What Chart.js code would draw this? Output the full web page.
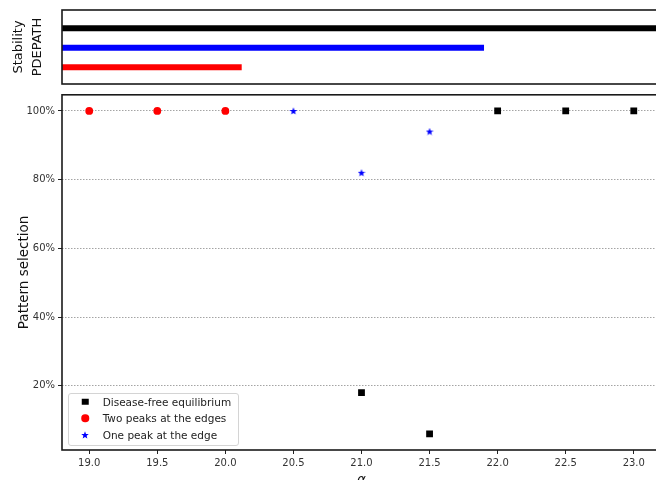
<!DOCTYPE html>
<html><head><meta charset="utf-8">
<script src="https://cdn.jsdelivr.net/npm/chart.js@4/dist/chart.umd.min.js"></script>
<style>
html,body{margin:0;padding:0;background:#fff;overflow:hidden;width:656px;height:480px}
#wrap{position:relative;width:656px;height:480px;overflow:hidden;background:#fff}
canvas.chart{position:absolute;left:0}
#c1{top:0}
#c2{top:90px}
#legend{position:absolute;left:68px;top:393px;width:169px;height:51px;border:1px solid #d4d4d4;border-radius:3px;background:rgba(255,255,255,0.85);font-family:"DejaVu Sans";font-size:10.5px;color:#222}
.row{position:absolute;left:0;height:16px;line-height:16px;width:100%}
.mk{position:absolute;top:50%;transform:translate(-50%,-50%)}
.txt{position:absolute;left:33.7px;top:0;white-space:nowrap}
</style></head>
<body>
<div id="wrap">
<canvas id="c1" class="chart" width="720" height="90"></canvas>
<canvas id="c2" class="chart" width="720" height="410"></canvas>
<div id="legend"></div>
</div>
<script>
// ---- data ----
const alphaTicks = [19.0, 19.5, 20.0, 20.5, 21.0, 21.5, 22.0, 22.5, 23.0];
const percentTicks = [20, 40, 60, 80, 100];
const alphaRange = [18.8, 23.2];
const shareRange = [1.3, 104.7];

const diseaseFreeAlpha = [21.0, 21.5, 22.0, 22.5, 23.0];
const diseaseFreeShare = [18, 6, 100, 100, 100];
const twoPeaksAlpha = [19.0, 19.5, 20.0];
const twoPeaksShare = [100, 100, 100];
const onePeakAlpha = [20.5, 21.0, 21.5];
const onePeakShare = [100, 82, 94];

const seriesNames = ['Disease-free equilibrium', 'Two peaks at the edges', 'One peak at the edge'];

// stability bars (top panel): row level, from alpha, to alpha
const stabilityLevel = [3, 2, 1];
const stabilityFrom = [18.8, 18.8, 18.8];
const stabilityTo = [23.2, 21.9, 20.12];
const stabilityLevelRange = [0.14, 3.94];

// ---- helpers ----
function makeStar(size, color) {
  const c = document.createElement('canvas');
  c.width = c.height = size;
  const g = c.getContext('2d');
  const cx = size / 2, cy = size / 2 + 0.3, R = size / 2, r = R * 0.42;
  g.beginPath();
  for (let i = 0; i < 10; i++) {
    const a = -Math.PI / 2 + i * Math.PI / 5;
    const rr = i % 2 ? r : R;
    g.lineTo(cx + rr * Math.cos(a), cy + rr * Math.sin(a));
  }
  g.closePath();
  g.fillStyle = color;
  g.fill();
  return c;
}
const toPts = (xs, ys) => xs.map((x, i) => ({x: x, y: ys[i]}));
const noPad = s => { s.paddingTop = 0; s.paddingBottom = 0; s.paddingLeft = 0; s.paddingRight = 0; };

const framePlugin = {
  id: 'frame',
  afterDraw(chart) {
    const {ctx, chartArea: a} = chart;
    ctx.save();
    ctx.strokeStyle = '#1a1a1a';
    ctx.lineWidth = 1.6;
    ctx.strokeRect(a.left, a.top, a.right - a.left, a.bottom - a.top);
    ctx.restore();
  }
};

const FONT = 'DejaVu Sans';
const stabColors = ['#000000', '#0000ff', '#ff0000'];

// ---- top panel ----
new Chart(document.getElementById('c1'), {
  type: 'scatter',
  data: {
    datasets: stabilityLevel.map((lv, i) => ({
      label: seriesNames[i],
      data: [{x: stabilityFrom[i], y: lv}, {x: stabilityTo[i], y: lv}],
      showLine: true,
      borderColor: stabColors[i],
      backgroundColor: stabColors[i],
      borderWidth: 6,
      borderCapStyle: 'butt',
      pointRadius: 0
    }))
  },
  options: {
    responsive: false, animation: false, devicePixelRatio: 1,
    layout: {padding: {top: 10, right: 59, bottom: 6, left: 0}},
    plugins: {legend: {display: false}, tooltip: {enabled: false}},
    scales: {
      x: {type: 'linear', min: alphaRange[0], max: alphaRange[1], display: false},
      y: {
        type: 'linear', min: stabilityLevelRange[0], max: stabilityLevelRange[1],
        grid: {display: false}, border: {display: false}, ticks: {display: false},
        title: {display: true, text: ['Stability', 'PDEPATH'], color: '#111',
          font: {family: FONT, size: 13, lineHeight: 1.45}, padding: {top: 9.5, bottom: 0}},
        afterFit: s => { s.width = 62; noPad(s); }
      }
    }
  },
  plugins: [framePlugin]
});

// ---- bottom panel ----
const starImg = makeStar(8, '#0000ff');
new Chart(document.getElementById('c2'), {
  type: 'scatter',
  data: {
    datasets: [
      {label: seriesNames[0], data: toPts(diseaseFreeAlpha, diseaseFreeShare),
        pointStyle: 'rect', pointRadius: 4.8, backgroundColor: '#000', borderColor: '#000', borderWidth: 0},
      {label: seriesNames[1], data: toPts(twoPeaksAlpha, twoPeaksShare),
        pointStyle: 'circle', pointRadius: 3.9, backgroundColor: '#ff0000', borderColor: '#ff0000', borderWidth: 0},
      {label: seriesNames[2], data: toPts(onePeakAlpha, onePeakShare),
        pointStyle: starImg, pointRadius: 4, backgroundColor: '#0000ff', borderColor: '#0000ff', borderWidth: 0}
    ]
  },
  options: {
    responsive: false, animation: false, devicePixelRatio: 1,
    layout: {padding: {top: 4, right: 59, bottom: 0, left: 0}},
    plugins: {legend: {display: false}, tooltip: {enabled: false}},
    scales: {
      x: {
        type: 'linear', min: alphaRange[0], max: alphaRange[1],
        afterBuildTicks: s => { s.ticks = alphaTicks.map(v => ({value: v})); },
        grid: {drawOnChartArea: false, drawTicks: true, tickLength: 4, tickColor: '#222', tickWidth: 1},
        border: {display: false},
        ticks: {callback: v => Number(v).toFixed(1), color: '#333', font: {family: FONT, size: 10},
          padding: 3, maxRotation: 0, autoSkip: false},
        title: {display: true, text: 'α', color: '#111',
          font: {family: FONT, size: 13.5, style: 'italic'}, padding: {top: 0, bottom: 11}},
        afterFit: s => { s.height = 50; noPad(s); }
      },
      y: {
        type: 'linear', min: shareRange[0], max: shareRange[1],
        afterBuildTicks: s => { s.ticks = percentTicks.map(v => ({value: v})); },
        grid: {color: '#9a9a9a', lineWidth: 0.9, tickLength: 4, tickColor: '#222', tickWidth: 1, tickBorderDash: []},
        border: {display: false, dash: [1.5, 1.5]},
        ticks: {callback: v => v + '%', color: '#333', font: {family: FONT, size: 10}, padding: 3},
        title: {display: true, text: 'Pattern selection', color: '#111',
          font: {family: FONT, size: 13.5}, padding: {top: 16, bottom: 0}},
        afterFit: s => { s.width = 62; noPad(s); }
      }
    }
  },
  plugins: [framePlugin]
});

// ---- legend (HTML, inside the lower-left of the plot) ----
const legend = document.getElementById('legend');
const rowTops = [-0.3, 16.3, 33];
seriesNames.forEach((name, i) => {
  const row = document.createElement('div');
  row.className = 'row';
  row.style.top = rowTops[i] + 'px';
  let mk;
  if (i === 0) {
    mk = document.createElement('div');
    mk.style.cssText = 'width:6.5px;height:6.5px;background:#000;';
  } else if (i === 1) {
    mk = document.createElement('div');
    mk.style.cssText = 'width:7.5px;height:7.5px;background:#f00;border-radius:50%;';
  } else {
    mk = makeStar(8, '#0000ff');
  }
  mk.className = 'mk';
  mk.style.left = '16px';
  row.appendChild(mk);
  const t = document.createElement('span');
  t.className = 'txt';
  t.textContent = name;
  row.appendChild(t);
  legend.appendChild(row);
});
</script>
</body></html>
